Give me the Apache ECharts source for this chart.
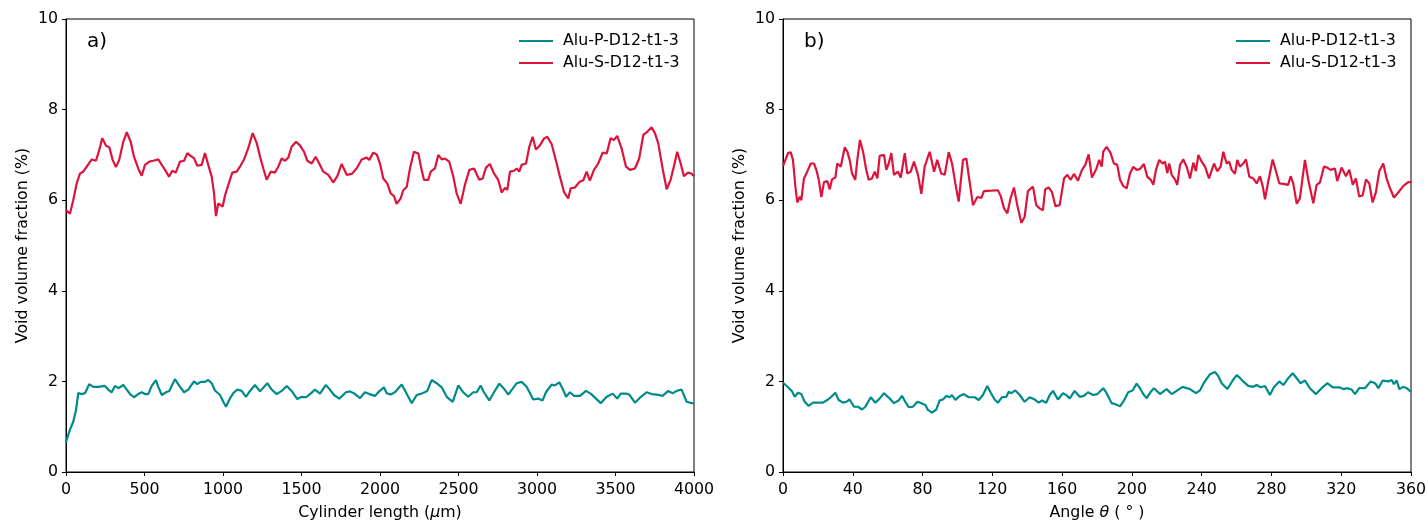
<!DOCTYPE html>
<html>
<head>
<meta charset="utf-8">
<script src="https://cdn.jsdelivr.net/npm/echarts@6/dist/echarts.min.js"></script>
<style>
html,body{margin:0;padding:0;background:#fff;}
#chart{width:1428px;height:521px;}
</style>
</head>
<body>
<div id="chart"></div>
<script>
// ---- Data ----
const seriesNames = ['Alu-P-D12-t1-3', 'Alu-S-D12-t1-3'];
const lengthTicks = [0, 500, 1000, 1500, 2000, 2500, 3000, 3500, 4000];
const angleTicks = [0, 40, 80, 120, 160, 200, 240, 280, 320, 360];

// a) void fraction vs cylinder length (um)
const lengthP = [[0,0.65],[4,0.71],[25,0.93],[46,1.11],[64,1.37],[78,1.74],[100,1.72],[121,1.74],[148,1.94],[174,1.88],[206,1.88],[248,1.90],[269,1.82],[291,1.76],[312,1.90],[333,1.85],[365,1.92],[387,1.82],[408,1.72],[433,1.65],[460,1.72],[482,1.76],[503,1.72],[524,1.72],[546,1.90],[573,2.03],[588,1.88],[610,1.70],[637,1.76],[658,1.79],[694,2.05],[722,1.90],[752,1.76],[779,1.82],[815,2.00],[836,1.94],[858,1.99],[885,1.99],[906,2.03],[928,1.96],[949,1.80],[981,1.70],[1002,1.55],[1019,1.44],[1045,1.63],[1066,1.74],[1091,1.82],[1119,1.79],[1146,1.66],[1172,1.79],[1204,1.92],[1236,1.78],[1282,1.96],[1310,1.82],[1342,1.72],[1374,1.79],[1406,1.90],[1437,1.79],[1473,1.61],[1501,1.66],[1529,1.65],[1558,1.73],[1586,1.82],[1618,1.73],[1654,1.92],[1681,1.82],[1707,1.70],[1741,1.62],[1783,1.76],[1809,1.78],[1841,1.72],[1873,1.63],[1904,1.76],[1932,1.72],[1968,1.68],[1995,1.78],[2025,1.87],[2043,1.74],[2068,1.71],[2095,1.76],[2138,1.93],[2165,1.76],[2202,1.52],[2234,1.70],[2265,1.73],[2301,1.79],[2329,2.03],[2361,1.96],[2393,1.87],[2425,1.66],[2463,1.55],[2499,1.91],[2530,1.76],[2562,1.66],[2594,1.76],[2616,1.76],[2641,1.91],[2662,1.76],[2696,1.58],[2726,1.76],[2760,1.95],[2790,1.84],[2817,1.71],[2845,1.84],[2871,1.96],[2902,1.99],[2934,1.88],[2976,1.60],[3008,1.62],[3036,1.58],[3057,1.76],[3093,1.93],[3114,1.91],[3142,1.98],[3163,1.84],[3185,1.66],[3210,1.76],[3236,1.68],[3274,1.68],[3312,1.79],[3342,1.73],[3376,1.62],[3406,1.52],[3444,1.66],[3482,1.73],[3511,1.62],[3533,1.73],[3567,1.73],[3588,1.71],[3624,1.53],[3656,1.64],[3698,1.76],[3730,1.72],[3762,1.71],[3800,1.68],[3836,1.79],[3864,1.74],[3890,1.79],[3921,1.82],[3953,1.55],[3985,1.52],[4000,1.52]];

const lengthS = [[0,5.78],[25,5.70],[46,6.0],[68,6.37],[89,6.59],[110,6.63],[132,6.74],[164,6.90],[191,6.87],[212,7.11],[231,7.37],[255,7.20],[276,7.17],[297,6.89],[318,6.73],[339,6.89],[365,7.29],[387,7.50],[412,7.29],[433,6.96],[460,6.70],[482,6.54],[503,6.78],[531,6.85],[556,6.87],[588,6.90],[610,6.78],[631,6.67],[656,6.52],[677,6.65],[699,6.61],[726,6.85],[752,6.87],[773,7.04],[794,6.98],[815,6.93],[836,6.76],[864,6.78],[885,7.04],[906,6.78],[928,6.52],[943,6.15],[955,5.65],[970,5.93],[998,5.86],[1013,6.11],[1034,6.34],[1059,6.61],[1087,6.63],[1108,6.74],[1134,6.90],[1161,7.15],[1189,7.48],[1215,7.26],[1236,6.96],[1257,6.70],[1278,6.45],[1304,6.63],[1331,6.61],[1352,6.74],[1374,6.92],[1395,6.87],[1416,6.94],[1437,7.18],[1465,7.29],[1490,7.21],[1516,7.07],[1537,6.87],[1565,6.81],[1590,6.96],[1613,6.81],[1639,6.63],[1671,6.56],[1702,6.39],[1728,6.53],[1756,6.80],[1788,6.56],[1820,6.58],[1851,6.70],[1883,6.90],[1915,6.94],[1932,6.89],[1957,7.05],[1979,7.01],[2000,6.81],[2021,6.48],[2046,6.37],[2068,6.15],[2089,6.09],[2106,5.92],[2132,6.04],[2148,6.22],[2170,6.29],[2191,6.70],[2216,7.07],[2244,7.03],[2265,6.67],[2280,6.45],[2307,6.45],[2323,6.63],[2350,6.70],[2371,7.00],[2393,6.90],[2414,6.92],[2441,6.85],[2467,6.52],[2488,6.15],[2514,5.92],[2541,6.34],[2569,6.67],[2599,6.70],[2632,6.45],[2654,6.48],[2675,6.72],[2700,6.80],[2726,6.59],[2753,6.45],[2775,6.17],[2796,6.27],[2811,6.23],[2828,6.63],[2853,6.65],[2871,6.70],[2887,6.63],[2902,6.78],[2930,6.81],[2951,7.18],[2972,7.40],[2993,7.12],[3019,7.21],[3044,7.36],[3065,7.40],[3093,7.24],[3121,6.87],[3146,6.52],[3172,6.18],[3199,6.04],[3214,6.26],[3242,6.28],[3269,6.40],[3295,6.44],[3316,6.63],[3337,6.43],[3363,6.67],[3390,6.81],[3418,7.05],[3444,7.03],[3469,7.37],[3490,7.33],[3511,7.42],[3539,7.14],[3567,6.74],[3592,6.67],[3624,6.70],[3651,6.92],[3677,7.44],[3702,7.51],[3730,7.61],[3751,7.48],[3772,7.26],[3800,6.70],[3826,6.24],[3851,6.45],[3872,6.75],[3893,7.07],[3915,6.81],[3936,6.53],[3962,6.61],[3983,6.59],[4000,6.53]];

// b) void fraction vs angle theta (deg)
const angleP = [[0,1.97],[0.6,1.96],[2.9,1.87],[5.2,1.78],[6.7,1.66],[8.6,1.75],[10.5,1.72],[12.4,1.55],[14.7,1.46],[17.2,1.53],[19.7,1.53],[22.9,1.53],[25.8,1.60],[27.7,1.66],[30.0,1.75],[31.9,1.59],[34.4,1.53],[36.3,1.55],[38.2,1.60],[40.7,1.44],[43.0,1.44],[45.3,1.38],[47.2,1.44],[50.3,1.65],[52.9,1.53],[55.4,1.62],[57.9,1.74],[61.2,1.62],[63.6,1.52],[66.3,1.58],[68.2,1.68],[70.1,1.55],[72.1,1.43],[74.5,1.44],[77.0,1.55],[79.3,1.52],[81.6,1.48],[83.1,1.37],[85.4,1.31],[87.9,1.38],[89.8,1.58],[91.7,1.60],[93.6,1.68],[95.6,1.65],[96.9,1.70],[98.8,1.59],[101.3,1.68],[103.7,1.72],[106.4,1.65],[109.9,1.65],[112.2,1.59],[114.6,1.70],[117.1,1.90],[119.1,1.75],[121.3,1.60],[123.2,1.53],[125.5,1.65],[128.0,1.66],[129.4,1.77],[130.9,1.74],[133.2,1.80],[135.7,1.70],[138.5,1.55],[141.4,1.65],[144.3,1.60],[146.6,1.53],[148.5,1.58],[150.9,1.53],[152.9,1.70],[154.8,1.79],[157.6,1.60],[160.5,1.74],[162.4,1.70],[164.3,1.62],[167.2,1.79],[170.1,1.66],[172.5,1.68],[174.8,1.76],[177.7,1.70],[180.2,1.72],[183.6,1.85],[185.5,1.74],[188.4,1.52],[190.9,1.49],[193.2,1.45],[195.5,1.58],[197.9,1.76],[200.4,1.80],[202.7,1.95],[204.6,1.85],[206.5,1.72],[208.5,1.63],[210.8,1.77],[212.7,1.85],[216.1,1.72],[219.9,1.83],[222.8,1.72],[226.0,1.80],[229.1,1.88],[233.3,1.83],[236.7,1.74],[239.0,1.80],[241.3,1.97],[244.8,2.16],[247.6,2.21],[249.5,2.12],[251.5,1.96],[254.7,1.83],[257.8,2.02],[260.1,2.14],[261.6,2.09],[263.8,2.00],[266.7,1.90],[269.6,1.88],[271.5,1.92],[273.8,1.87],[276.3,1.90],[279.1,1.70],[281.4,1.87],[284.5,2.00],[286.8,1.92],[289.6,2.07],[292.2,2.18],[294.5,2.07],[296.7,1.96],[299.2,2.02],[302.0,1.85],[305.5,1.72],[308.8,1.85],[312.0,1.96],[315.1,1.87],[318.9,1.87],[321.2,1.83],[323.5,1.85],[326.0,1.82],[327.9,1.72],[330.3,1.85],[333.6,1.85],[336.9,2.00],[339.4,1.96],[341.3,1.85],[343.8,2.02],[347.0,2.00],[348.9,2.03],[350.2,1.94],[351.8,2.02],[353.3,1.83],[355.5,1.88],[357.5,1.85],[360,1.77]];

const angleS = [[0,6.75],[0.6,6.78],[2.9,7.04],[4.4,7.06],[5.7,6.89],[7.1,6.30],[8.2,5.95],[9.6,6.08],[10.5,6.0],[12.0,6.48],[13.9,6.63],[15.9,6.81],[17.8,6.81],[19.1,6.67],[20.5,6.45],[22.0,6.07],[23.5,6.40],[25.4,6.42],[26.8,6.24],[28.1,6.46],[30.0,6.50],[31.1,6.81],[33.1,6.74],[35.4,7.17],[36.9,7.07],[38.2,6.89],[39.6,6.59],[41.4,6.45],[42.6,6.89],[44.1,7.33],[45.9,7.07],[47.7,6.67],[49.1,6.45],[51.0,6.48],[52.6,6.63],[54.1,6.48],[55.4,6.98],[57.9,7.0],[59.2,6.67],[60.6,6.81],[62.1,7.04],[63.6,6.56],[65.9,6.63],[67.5,6.50],[69.8,7.04],[71.2,6.59],[73.2,6.63],[75.1,6.85],[77.4,6.56],[79.3,6.14],[81.2,6.74],[84.1,7.07],[86.6,6.63],[88.4,6.89],[90.7,6.59],[92.7,6.56],[95.0,7.06],[96.9,6.81],[98.8,6.37],[100.7,5.97],[103.2,6.89],[105.1,6.92],[107.0,6.40],[108.9,5.89],[111.4,6.07],[113.7,6.05],[115.2,6.20],[119.4,6.21],[123.2,6.22],[124.8,6.09],[126.7,5.82],[128.6,5.71],[130.5,6.05],[132.4,6.28],[134.3,5.89],[136.6,5.50],[138.5,5.63],[140.4,6.20],[143.3,6.30],[145.2,5.89],[147.1,5.82],[149.0,5.78],[150.3,6.24],[152.3,6.28],[154.2,6.18],[156.1,5.87],[158.6,5.89],[161.1,6.48],[163.0,6.56],[164.9,6.45],[166.8,6.58],[169.1,6.43],[171.4,6.67],[173.3,6.78],[175.2,7.01],[177.1,6.50],[179.4,6.67],[181.3,6.89],[182.7,6.74],[183.6,7.07],[185.5,7.18],[187.8,7.04],[189.7,6.81],[191.6,6.78],[193.2,6.45],[195.1,6.31],[197.0,6.26],[198.9,6.59],[200.8,6.74],[202.7,6.67],[204.6,6.69],[206.9,6.80],[208.8,6.52],[210.8,6.45],[212.3,6.34],[213.8,6.67],[215.7,6.89],[217.6,6.81],[219.0,6.85],[220.3,6.60],[221.4,6.81],[222.8,6.56],[224.7,6.46],[226.0,6.34],[227.6,6.78],[229.5,6.90],[231.4,6.74],[233.3,6.48],[235.2,6.83],[236.7,6.64],[238.1,7.0],[240.0,6.85],[241.9,6.74],[244.2,6.48],[247.1,6.81],[248.9,6.64],[250.9,6.74],[252.4,7.07],[254.3,6.81],[255.8,6.85],[257.2,6.67],[259.1,6.58],[260.4,6.89],[261.9,6.74],[263.8,6.81],[265.4,6.90],[267.3,6.52],[269.6,6.48],[271.5,6.37],[273.4,6.53],[275.0,6.31],[276.3,6.02],[278.2,6.42],[280.7,6.90],[282.6,6.64],[284.5,6.37],[286.8,6.36],[289.6,6.34],[291.0,6.53],[292.5,6.37],[294.5,5.92],[296.3,6.04],[299.2,6.89],[301.1,6.45],[304.0,5.93],[305.9,6.34],[307.8,6.39],[310.1,6.74],[312.0,6.72],[313.9,6.67],[316.4,6.70],[317.7,6.42],[320.2,6.72],[322.7,6.53],[324.6,6.67],[326.6,6.34],[328.4,6.48],[330.3,6.08],[332.3,6.11],[334.2,6.46],[336.1,6.37],[338.0,5.95],[339.9,6.18],[341.8,6.64],[344.1,6.81],[346.0,6.48],[347.5,6.31],[350.2,6.06],[352.7,6.17],[355.5,6.31],[358.4,6.40],[360,6.40]];

// ---- Chart ----
const FONT = 'DejaVu Sans';
const FS = 15.8;
const TEAL = '#008b8b';
const RED = '#dc143c';
const chart = echarts.init(document.getElementById('chart'), null, {renderer: 'canvas'});

function xAx(gridIndex, maxV, step, name, rich) {
  return {
    type: 'value', gridIndex: gridIndex, min: 0, max: maxV, interval: step,
    name: name, nameLocation: 'middle', nameGap: 33,
    nameTextStyle: {fontFamily: FONT, fontSize: FS, color: '#000', rich: rich},
    axisLine: {show: true, onZero: false, lineStyle: {color: '#000', width: 1}},
    axisTick: {show: true, inside: false, length: 4, lineStyle: {color: '#000', width: 1}},
    axisLabel: {fontFamily: FONT, fontSize: FS, color: '#000', margin: 10,
      formatter: function (v) { return String(v); }},
    splitLine: {show: false}
  };
}
function yAx(gridIndex) {
  return {
    type: 'value', gridIndex: gridIndex, min: 0, max: 10, interval: 2,
    name: 'Void volume fraction (%)', nameLocation: 'middle', nameGap: 35, nameRotate: 90,
    nameTextStyle: {fontFamily: FONT, fontSize: FS, color: '#000'},
    axisLine: {show: true, onZero: false, lineStyle: {color: '#000', width: 1}},
    axisTick: {show: true, inside: false, length: 4, lineStyle: {color: '#000', width: 1}},
    axisLabel: {fontFamily: FONT, fontSize: FS, color: '#000', margin: 8,
      formatter: function (v) { return String(v); }},
    splitLine: {show: false}
  };
}
const italicRich = {i: {fontFamily: FONT, fontSize: FS, color: '#000', fontStyle: 'italic'}};

function lineSeries(name, data, color, xi, yi) {
  return {
    type: 'line', name: name, data: data, xAxisIndex: xi, yAxisIndex: yi,
    showSymbol: false, symbol: 'none', smooth: false, clip: true,
    lineStyle: {color: color, width: 2.2}, itemStyle: {color: color},
    emphasis: {disabled: true}
  };
}
function legendAt(left) {
  return {
    left: left, top: 33, orient: 'vertical', icon: 'rect',
    itemWidth: 34, itemHeight: 2, itemGap: 6, padding: 0,
    data: seriesNames,
    textStyle: {fontFamily: FONT, fontSize: FS, color: '#000', lineHeight: 16, padding: [0, 0, 0, 5]}
  };
}
function gridAt(left) {
  return {
    left: left, top: 19, width: 628, height: 453,
    containLabel: false, outerBoundsMode: 'none',
    show: true, borderColor: '#000', borderWidth: 1, backgroundColor: 'transparent'
  };
}

chart.setOption({
  animation: false,
  backgroundColor: '#fff',
  grid: [gridAt(66), gridAt(783)],
  xAxis: [
    xAx(0, 4000, 500, 'Cylinder length ({i|μ}m)', italicRich),
    xAx(1, 360, 40, 'Angle {i|θ} ( ° )', italicRich)
  ],
  yAxis: [yAx(0), yAx(1)],
  legend: [legendAt(519), legendAt(1236)],
  series: [
    lineSeries(seriesNames[0], lengthP, TEAL, 0, 0),
    lineSeries(seriesNames[1], lengthS, RED, 0, 0),
    lineSeries(seriesNames[0], angleP, TEAL, 1, 1),
    lineSeries(seriesNames[1], angleS, RED, 1, 1)
  ],
  graphic: [
    {type: 'text', left: 87, top: 32, style: {text: 'a)', fontFamily: FONT, fontSize: 20, fill: '#000'}},
    {type: 'text', left: 804, top: 32, style: {text: 'b)', fontFamily: FONT, fontSize: 20, fill: '#000'}}
  ]
});
</script>
</body>
</html>
